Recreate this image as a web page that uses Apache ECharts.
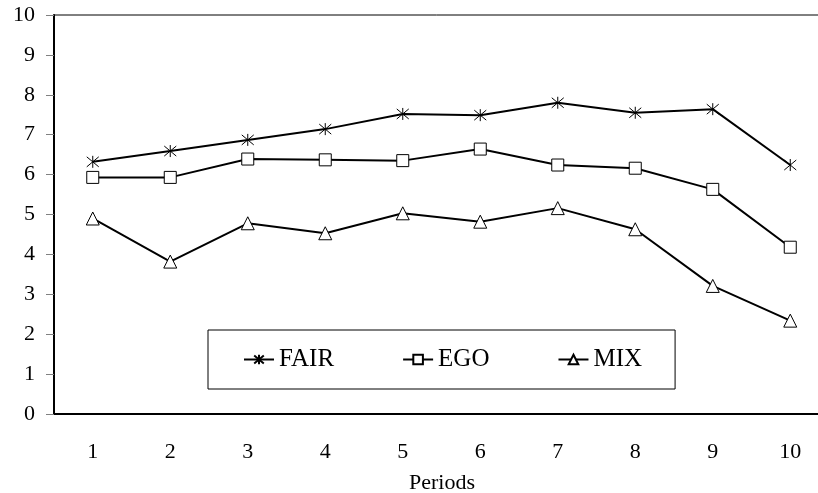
<!DOCTYPE html>
<html>
<head>
<meta charset="utf-8">
<script src="https://cdn.jsdelivr.net/npm/echarts@6/dist/echarts.min.js"></script>
<style>
html,body{margin:0;padding:0;background:#fff;}
#main{width:818px;height:493px;}
</style>
</head>
<body>
<div id="main"></div>
<script>
const categories = ['1','2','3','4','5','6','7','8','9','10'];
const fair = [6.32, 6.59, 6.87, 7.14, 7.52, 7.49, 7.80, 7.55, 7.64, 6.24];
const ego  = [5.93, 5.93, 6.39, 6.37, 6.35, 6.64, 6.24, 6.16, 5.63, 4.18];
const mix  = [4.90, 3.82, 4.78, 4.53, 5.03, 4.82, 5.16, 4.63, 3.21, 2.34];
const yTicks = [0,1,2,3,4,5,6,7,8,9,10];

const FONT = 'Liberation Serif';
const asterisk = 'path://M0,0L10,10M10,0L0,10M5,-1L5,11';

const chart = echarts.init(document.getElementById('main'));
function mk(name, data, symbol, size) {
  return {
    name: name, type: 'line', data: data,
    symbol: symbol, symbolSize: size,
    lineStyle: {color: '#000', width: 2},
    itemStyle: {color: '#fff', borderColor: '#000', borderWidth: 1},
    emphasis: {disabled: true},
    animation: false
  };
}
chart.setOption({
  animation: false,
  grid: {left: 54, top: 15, width: 775, height: 399, show: true, borderColor: '#000', borderWidth: 1,
         backgroundColor: 'transparent', outerBoundsMode: 'none', containLabel: false},
  xAxis: {
    type: 'category', data: categories, boundaryGap: true,
    axisLine: {lineStyle: {color: '#000', width: 2}},
    axisTick: {length: 8, lineStyle: {color: '#808080', width: 1}},
    axisLabel: {fontFamily: FONT, fontSize: 22, color: '#000', margin: 27}
  },
  yAxis: {
    type: 'value', min: yTicks[0], max: yTicks[yTicks.length-1], interval: 1,
    splitLine: {show: false},
    axisLine: {show: true, lineStyle: {color: '#000', width: 2}},
    axisTick: {show: true, length: 8, lineStyle: {color: '#808080', width: 1}},
    axisLabel: {fontFamily: FONT, fontSize: 22, color: '#000', margin: 19}
  },
  legend: {
    left: 208, top: 330,
    orient: 'horizontal',
    borderColor: '#000', borderWidth: 1,
    padding: [17, 33, 17, 35],
    itemGap: 68, itemWidth: 30, itemHeight: 12,
    textStyle: {fontFamily: FONT, fontSize: 25, color: '#000'},
    data: ['FAIR', 'EGO', 'MIX']
  },
  graphic: [{
    type: 'text', x: 442, y: 483,
    style: {text: 'Periods', font: '22px "Liberation Serif"', fill: '#000', align: 'center', verticalAlign: 'middle'}
  }],
  series: [
    mk('FAIR', fair, asterisk, 12),
    mk('EGO', ego, 'rect', 12),
    mk('MIX', mix, 'triangle', 13)
  ]
});
</script>
</body>
</html>
